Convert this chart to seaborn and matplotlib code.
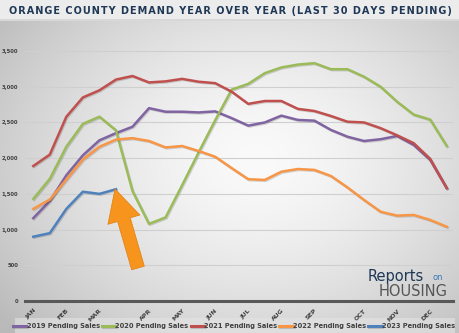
import numpy as np
import pandas as pd
import seaborn as sns
import matplotlib
matplotlib.use("Agg")
import matplotlib.pyplot as plt
import matplotlib.patheffects as pe
from matplotlib.patches import Rectangle

# ---------------- data ----------------
periods = list(range(26))
month_labels = ['JAN', 'FEB', 'MAR', 'APR', 'MAY', 'JUN', 'JUL', 'AUG', 'SEP', 'OCT', 'NOV', 'DEC']
month_pos = [0, 2, 4, 7, 9, 11, 13, 15, 17, 20, 22, 24]

sales_2019 = [1160, 1400, 1760, 2040, 2250, 2350, 2440, 2700, 2650, 2650, 2640, 2655, 2560,
              2455, 2500, 2595, 2535, 2525, 2395, 2300, 2240, 2265, 2310, 2185, 1975, 1580]
sales_2020 = [1430, 1710, 2160, 2480, 2580, 2390, 1540, 1080, 1170, 1620, 2080, 2530, 2960,
              3040, 3190, 3270, 3310, 3330, 3245, 3245, 3140, 3000, 2790, 2610, 2540, 2170]
sales_2021 = [1890, 2050, 2580, 2850, 2950, 3100, 3150, 3060, 3075, 3110, 3070, 3050, 2930,
              2760, 2800, 2800, 2690, 2660, 2590, 2510, 2500, 2420, 2320, 2210, 1990, 1580]
sales_2022 = [1290, 1420, 1700, 1980, 2160, 2260, 2280, 2240, 2150, 2170, 2100, 2020, 1860,
              1705, 1695, 1810, 1848, 1835, 1750, 1590, 1415, 1250, 1195, 1205, 1135, 1040]
sales_2023 = [900, 950, 1290, 1530, 1500, 1565]

series_names = ['2019 Pending Sales', '2020 Pending Sales', '2021 Pending Sales',
                '2022 Pending Sales', '2023 Pending Sales']
series_values = [sales_2019, sales_2020, sales_2021, sales_2022, sales_2023]
colors = ['#8064A2', '#9BBB59', '#C0504D', '#F79646', '#4F81BD']

y_ticks = [0, 500, 1000, 1500, 2000, 2500, 3000, 3500]

rows = []
for name, vals in zip(series_names, series_values):
    for p, v in zip(periods, vals):
        rows.append({'period': p, 'sales': v, 'series': name})
df = pd.DataFrame(rows)

# ---------------- figure ----------------
W, H = 460, 333
fig = plt.figure(figsize=(W / 100, H / 100), dpi=100)

# background radial gradient
bg = fig.add_axes([0, 0, 1, 1], zorder=-10)
xx, yy = np.meshgrid(np.linspace(0, 1, 460), np.linspace(0, 1, 333))
r = np.sqrt(((xx - 0.56) / 0.7) ** 2 + ((yy - 0.48) / 0.75) ** 2)
val = np.clip(250 - 62 * r ** 1.5, 185, 250) / 255.0
img = np.dstack([val, val, val])
bg.imshow(img, aspect='auto', extent=[0, 1, 0, 1], origin='upper')
bg.set_axis_off()

# title band
fig.patches.append(Rectangle((0, 1 - 19 / H), 1, 19 / H, transform=fig.transFigure,
                             facecolor='#ececec', edgecolor='none', zorder=-5))
fig.patches.append(Rectangle((0, 1 - 20.5 / H), 1, 1.5 / H, transform=fig.transFigure,
                             facecolor='#d8d8d8', edgecolor='none', zorder=-5))
title = "ORANGE COUNTY DEMAND YEAR OVER YEAR (LAST 30 DAYS PENDING)"
fig.text(0.5, 1 - 10.5 / H, '\u200a'.join(title), ha='center', va='center',
         fontsize=7.0, fontweight='bold', color='#1F3856', family='DejaVu Sans')

# legend band
fig.patches.append(Rectangle((15 / W, 0), 440 / W, 15 / H, transform=fig.transFigure,
                             facecolor='#e4e4e4', edgecolor='none', zorder=-5, alpha=0.6))

# main axes
left, right, bottom, top = 25 / W, 453 / W, (H - 301) / H, (H - 40.3) / H
ax = fig.add_axes([left, bottom, right - left, top - bottom])
ax.patch.set_alpha(0)

sns.lineplot(data=df, x='period', y='sales', hue='series', palette=colors,
             hue_order=series_names, linewidth=1.8, ax=ax, legend=True,
             estimator=None, sort=False)
for line in ax.get_lines():
    line.set_path_effects([pe.SimpleLineShadow(offset=(0.7, -0.7), alpha=0.15),
                           pe.Normal()])
    line.set_solid_joinstyle('round')

ax.set_xlim(-0.5, 25.38)
ax.set_ylim(0, 3650)
ax.set_xticks(month_pos)
ax.set_xticklabels(month_labels, rotation=45, ha='right', va='top',
                   rotation_mode='anchor', fontsize=4.5, fontweight='bold', color='#404040')
ax.set_yticks(y_ticks)
ax.set_yticklabels([f"{v:,}" for v in y_ticks], fontsize=3.8, fontweight='bold', color='#404040')
ax.tick_params(axis='both', length=0)
ax.tick_params(axis='y', pad=5)
ax.tick_params(axis='x', pad=5)
ax.set_xlabel('')
ax.set_ylabel('')
ax.grid(axis='y', color='#cfcfcf', linewidth=0.8)
ax.grid(axis='x', visible=False)
ax.set_axisbelow(True)
for s in ['top', 'right', 'left']:
    ax.spines[s].set_visible(False)
ax.spines['bottom'].set_color('#595959')
ax.spines['bottom'].set_linewidth(2.2)
ax.spines['bottom'].set_zorder(5)

handles, labels = ax.get_legend_handles_labels()
ax.get_legend().remove()
leg = fig.legend(handles, labels, loc='center', bbox_to_anchor=(234 / W, 7 / H), ncol=5,
                 frameon=False, fontsize=4.8, handlelength=2.0, handletextpad=0.05,
                 columnspacing=0.3, borderaxespad=0, borderpad=0)
for t in leg.get_texts():
    t.set_fontweight('bold')
    t.set_color('#404040')
for h in leg.legend_handles:
    h.set_linewidth(2.2)

# orange arrow annotation
ax.annotate('', xy=(115, H - 189), xytext=(138, H - 268), xycoords='figure pixels',
            textcoords='figure pixels',
            arrowprops=dict(arrowstyle='simple,head_width=2.4,head_length=2.3,tail_width=0.95',
                            mutation_scale=10, facecolor='#F7941D', edgecolor='#e07f10',
                            linewidth=0.5, shrinkA=0, shrinkB=0))

# logo
fig.text(368 / W, 1 - 276 / H, 'Reports', fontsize=10.5, color='#1F3856', ha='left', va='center',
         family='DejaVu Sans')
fig.text(433 / W, 1 - 277 / H, 'on', fontsize=6, color='#3A78B5', ha='left', va='center',
         family='DejaVu Sans')
fig.text(448 / W, 1 - 291 / H, 'HOUSING', fontsize=10.5, color='#555555', ha='right', va='center',
         family='DejaVu Sans')

fig.savefig('out.png', dpi=100)
